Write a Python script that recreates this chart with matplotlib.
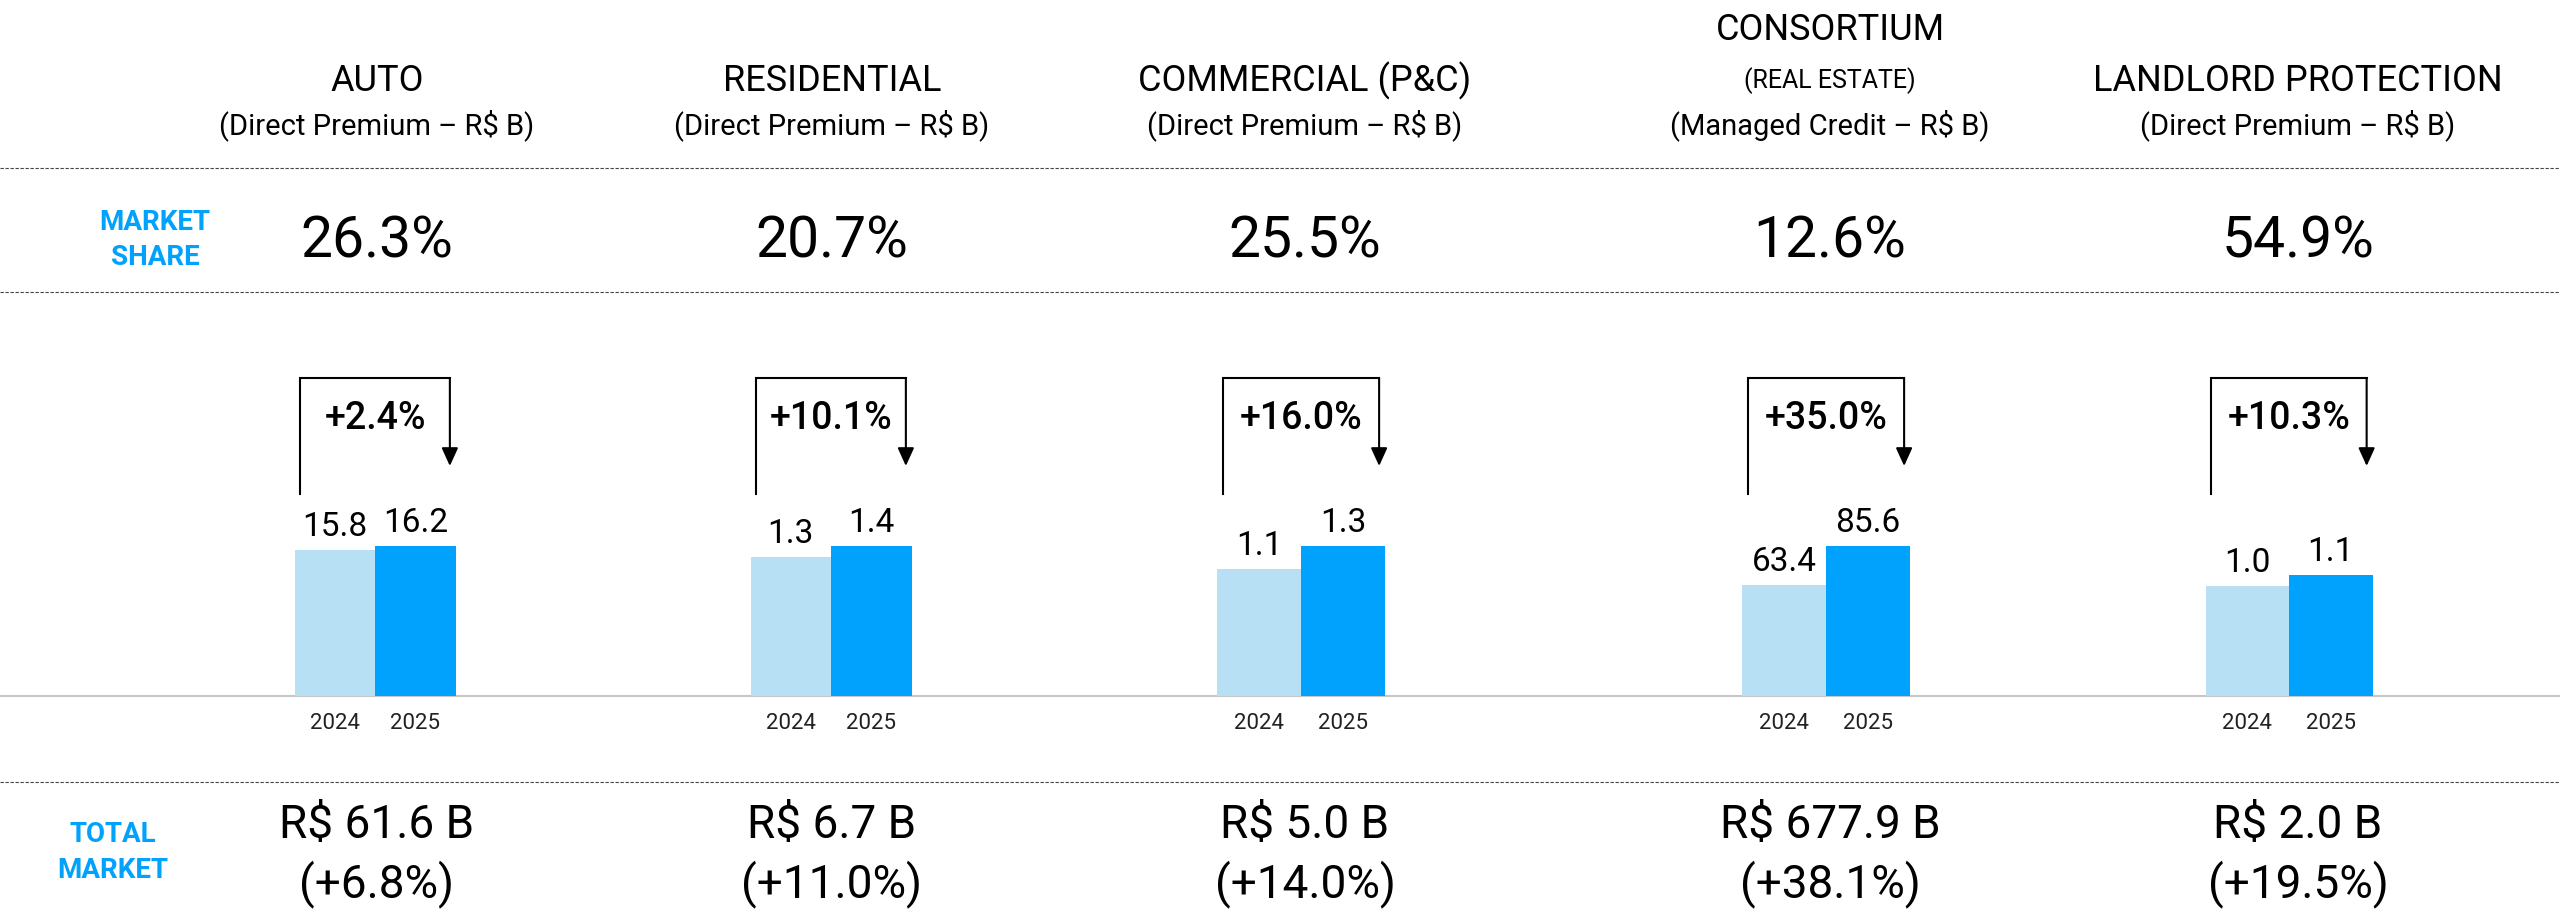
import matplotlib.pyplot as plt
from matplotlib.lines import Line2D
from matplotlib.transforms import blended_transform_factory

# Market data per line of business
categories = ["AUTO", "RESIDENTIAL", "COMMERCIAL (P&C)", "CONSORTIUM", "LANDLORD PROTECTION"]
notes = ["", "", "", "(REAL ESTATE)", ""]
units = ["(Direct Premium – R$ B)", "(Direct Premium – R$ B)", "(Direct Premium – R$ B)",
         "(Managed Credit – R$ B)", "(Direct Premium – R$ B)"]
market_share = [26.3, 20.7, 25.5, 12.6, 54.9]
years = ["2024", "2025"]
values_2024 = [15.8, 1.3, 1.1, 63.4, 1.0]
values_2025 = [16.2, 1.4, 1.3, 85.6, 1.1]
growth = [2.4, 10.1, 16.0, 35.0, 10.3]
total_market = [61.6, 6.7, 5.0, 677.9, 2.0]
total_growth = [6.8, 11.0, 14.0, 38.1, 19.5]

# layout (pixels)
W, H = 2560, 923
text_x = [377, 832, 1305, 1830, 2298]
bar_x = [375, 831, 1301, 1826, 2289]
bar_px = [80.5, 80.5, 84, 84, 83.5]
headroom = [1.667, 1.667, 1.667, 1.667, 2.07]
base_y = 696
axes_h = 250

BLUE = "#00a2fd"
LIGHT = "#b8e0f5"
INK = "#000000"

plt.rcParams["font.family"] = ["Roboto", "DejaVu Sans"]

fig = plt.figure(figsize=(W / 100, H / 100), dpi=100)


def fx(px):
    return px / W


def fy(px):
    return 1 - px / H


# separators
for y in [168, 292, 782]:
    fig.add_artist(Line2D([0, 1], [fy(y), fy(y)], transform=fig.transFigure,
                          color="#444444", lw=0.8, ls=(0, (3, 1.5))))
fig.add_artist(Line2D([0, 1], [fy(base_y), fy(base_y)], transform=fig.transFigure,
                      color="#c6c6c6", lw=1.5, zorder=0))

# row labels
for txt, y in [("MARKET", 230), ("SHARE", 265)]:
    fig.text(fx(155), fy(y), txt, ha="center", va="baseline", fontsize=20,
             weight="bold", color=BLUE)
for txt, y in [("TOTAL", 842), ("MARKET", 878)]:
    fig.text(fx(113), fy(y), txt, ha="center", va="baseline", fontsize=20,
             weight="bold", color=BLUE)

for i, cat in enumerate(categories):
    cx = fx(text_x[i])

    # header
    if notes[i]:
        fig.text(cx, fy(40), cat, ha="center", va="baseline", fontsize=26, color=INK)
        fig.text(cx, fy(88), notes[i], ha="center", va="baseline", fontsize=18, color=INK)
    else:
        fig.text(cx, fy(91), cat, ha="center", va="baseline", fontsize=26, color=INK)
    fig.text(cx, fy(134), units[i], ha="center", va="baseline", fontsize=21, color=INK)

    # market share
    fig.text(cx, fy(258), f"{market_share[i]:.1f}%", ha="center", va="baseline",
             fontsize=41, color=INK)

    # total market
    fig.text(cx, fy(838), f"R$ {total_market[i]:.1f} B", ha="center", va="baseline",
             fontsize=33, color=INK)
    fig.text(cx, fy(897), f"(+{total_growth[i]:.1f}%)", ha="center", va="baseline",
             fontsize=33, color=INK)

    # bars
    bw = bar_px[i]
    ax = fig.add_axes([fx(bar_x[i] - bw), fy(base_y), fx(2 * bw), axes_h / H])
    vals = [values_2024[i], values_2025[i]]
    ax.bar([0, 1], vals, width=1.0, color=[LIGHT, BLUE])
    ax.set_xlim(-0.5, 1.5)
    ax.set_ylim(0, values_2025[i] * headroom[i])
    for s in ax.spines.values():
        s.set_visible(False)
    ax.set_yticks([])
    ax.set_xticks([0, 1], years)
    ax.tick_params(axis="x", length=0, labelsize=16, pad=12, labelcolor="#222222")
    ax.patch.set_alpha(0)

    for j, v in enumerate(vals):
        ax.annotate(f"{v:.1f}", (j, v), xytext=(0, 10), textcoords="offset points",
                    ha="center", va="baseline", fontsize=24, color=INK)

    # growth bracket
    trans = blended_transform_factory(ax.transData, ax.transAxes)
    ax.plot([-0.43, -0.43, 1.43], [0.808, 1.272, 1.272], transform=trans,
            color="black", lw=1.5, clip_on=False, solid_joinstyle="miter")
    ax.annotate("", xy=(1.43, 0.92), xycoords=trans, xytext=(1.43, 1.272),
                textcoords=trans,
                arrowprops=dict(arrowstyle="-|>,head_length=0.55,head_width=0.25",
                                color="black", lw=1.5, shrinkA=0, shrinkB=0,
                                mutation_scale=20))
    ax.text(0.5, 1.068, f"+{growth[i]:.1f}%", transform=trans, ha="center",
            va="baseline", fontsize=27, weight="medium", color=INK)

fig.savefig("out.png", dpi=100)
plt.close()
